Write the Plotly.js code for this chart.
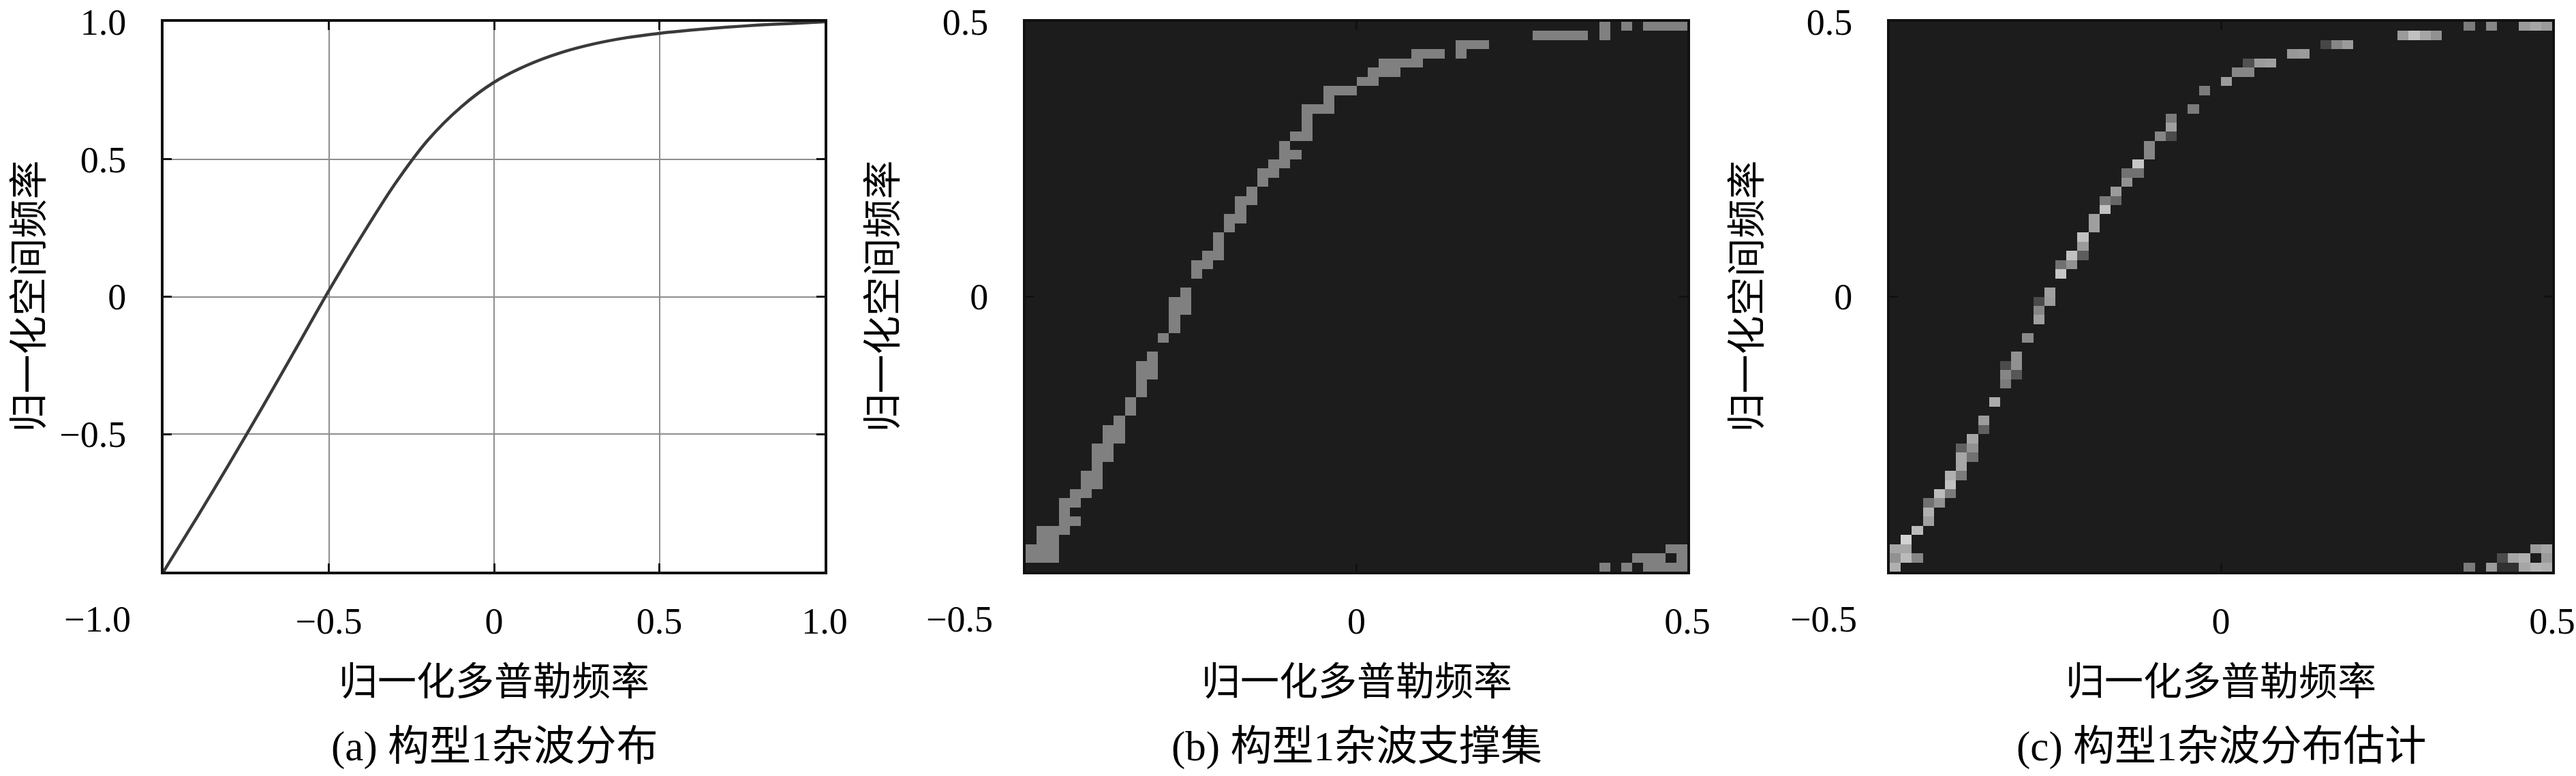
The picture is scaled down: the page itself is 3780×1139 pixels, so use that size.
<!DOCTYPE html>
<html>
<head>
<meta charset="utf-8">
<script src="https://cdn.plot.ly/plotly-3.0.1.min.js"></script>
<style>html,body{margin:0;padding:0;background:#fff;}#chart{width:3780px;height:1139px;}</style>
</head>
<body>
<div id="chart"></div>
<script>
// ---------- Panel (a): clutter ridge ----------
const ridgeDoppler = [-1.0,-0.9,-0.8,-0.7,-0.6,-0.5,-0.4,-0.3,-0.2,-0.1,0.0,0.1,0.2,0.3,0.4,0.5,0.6,0.7,0.8,0.9,1.0];
const ridgeSpatial = [-1.0,-0.805,-0.605,-0.40,-0.19,0.022,0.222,0.41,0.57,0.69,0.78,0.842,0.887,0.919,0.942,0.958,0.97,0.98,0.988,0.994,1.0];

// ---------- Grid for panels (b) and (c) ----------
const nBins = 60;            // 60 x 60 cells over [-0.5, 0.5]
const binRange = [-0.5, 0.5];

// Panel (b): support set, lit Doppler columns for each spatial row (row 0 = top)
const supportRows = [
  [52,54,56,57,58,59],
  [46,47,48,49,50,52],
  [39,40,41],
  [35,36,37,39],
  [32,33,34,35],
  [31,32,33],
  [30,31],
  [27,28,29],
  [27],
  [25,26,27],
  [25],
  [25],
  [24,25],
  [23],
  [23,24],
  [22,23],
  [21,22],
  [21],
  [20],
  [19,20],
  [19],
  [18,19],
  [18],
  [17],
  [17],
  [16,17],
  [15,16],
  [15],
  [],
  [14],
  [13,14],
  [13,14],
  [13],
  [13],
  [12],
  [],
  [11],
  [10,11],
  [10,11],
  [10],
  [10],
  [9],
  [9],
  [8],
  [7,8],
  [7,8],
  [6,7],
  [6,7],
  [6],
  [5,6],
  [5,6],
  [4,5],
  [3,4],
  [3],
  [3,4],
  [1,2,3],
  [1,2],
  [0,1,2,58,59],
  [0,1,2,55,56,57,59],
  [52,54,56,57,58,59]
];
const supportLevel = 1;

// Panel (c): estimated clutter distribution (column, row-from-top, intensity)
const estCol = [30,28,27,25,25,25,24,23,23,22,22,21,21,20,20,19,19,18,18,17,17,17,16,16,15,15,14,14,13,13,13,12,11,11,11,10,10,10,9,8,8,7,7,7,6,6,6,6,5,5,5,4,4,3,3,3,2,1,1,0,0,1,2,0,
  31,32,32,33,34,36,37,39,40,41,46,47,48,49,52,54,57,58,59,
  52,54,55,56,57,58,59,55,56,57,59,58,59];
const estRow = [6,7,9,10,11,12,12,13,14,15,16,16,17,18,19,19,20,21,22,23,24,25,25,26,26,27,29,30,30,31,32,34,36,37,38,37,38,39,41,43,44,45,46,47,46,47,48,49,49,50,51,51,52,52,53,54,55,56,57,57,58,58,58,59,
  5,5,4,4,4,3,3,2,2,2,1,1,1,1,0,0,0,0,0,
  59,59,59,59,59,59,59,58,58,58,58,57,57];
const estVal = [0.6,0.45,0.45,0.45,0.62,0.22,0.5,0.5,0.5,0.8,0.4,0.4,0.55,0.6,0.35,0.45,0.78,0.62,0.62,0.78,0.6,0.3,0.78,0.55,0.4,0.8,0.62,0.6,0.22,0.5,0.62,0.52,0.55,0.55,0.28,0.22,0.5,0.45,0.68,0.6,0.32,0.65,0.55,0.4,0.32,0.65,0.65,0.45,0.7,0.78,0.45,0.75,0.55,0.4,0.7,0.62,0.75,0.86,0.65,0.65,0.55,0.75,0.5,0.7,
  0.5,0.5,0.25,0.6,0.62,0.58,0.6,0.2,0.5,0.6,0.6,0.78,0.65,0.55,0.45,0.5,0.6,0.65,0.6,
  0.45,0.6,0.1,0.1,0.65,0.72,0.7,0.22,0.65,0.7,0.6,0.6,0.65];

// Tick labels and texts
const xTicksA = [-1.0,-0.5,0,0.5,1.0];
const xTickTextA = ['', '\u22120.5', '0', '0.5', '1.0'];
const yTicksA = [-1.0,-0.5,0,0.5,1.0];
const yTickTextA = ['', '\u22120.5', '0', '0.5', '1.0'];
const ticksBC = [-0.5,0,0.5];
const xTickTextBC = ['', '0', '0.5'];
const yTickTextBC = ['', '0', '0.5'];
const xTitle = '归一化多普勒频率';
const yTitle = '归一化空间频率';
const captions = ['(a) 构型1杂波分布', '(b) 构型1杂波支撑集', '(c) 构型1杂波分布估计'];
const cornerLabels = ['\u22121.0', '\u22120.5', '\u22120.5'];

// ---------- build matrices ----------
function emptyGrid(){ const z=[]; for(let j=0;j<nBins;j++){ z.push(new Array(nBins).fill(0)); } return z; }
const zSupport = emptyGrid();
supportRows.forEach((cols, r) => { cols.forEach(c => { zSupport[nBins-1-r][c] = supportLevel; }); });
const zEst = emptyGrid();
estCol.forEach((c,k) => { zEst[nBins-1-estRow[k]][c] = estVal[k]; });

const W = 3780, H = 1139;
const plotTop = 32, plotBot = 839;
const panelsPx = [[240,1210],[1505,2476],[2773,3745]];
const yTitleOffset = [198, 210, 210];
const px = v => v / W;
const py = v => 1 - v / H;
const yDom = [py(plotBot), py(plotTop)];

const serif = '"Liberation Serif", "Noto Sans CJK SC", serif';
const cjk = '"Liberation Serif", "Noto Sans CJK SC", sans-serif';
const tickFont = {family: serif, size: 54, color: '#000'};

const cell = (binRange[1]-binRange[0]) / nBins;
const traces = [
  {type:'scatter', mode:'lines', x: ridgeDoppler, y: ridgeSpatial, xaxis:'x', yaxis:'y',
   line:{color:'#3a3a3a', width:4.5, shape:'spline', smoothing:0.8}, hoverinfo:'skip'},
  {type:'heatmap', z: zSupport, x0: binRange[0]+cell/2, dx: cell, y0: binRange[0]+cell/2, dy: cell,
   xaxis:'x2', yaxis:'y2', zmin:0, zmax:1, showscale:false,
   colorscale:[[0,'#1c1c1c'],[1,'#808080']]},
  {type:'heatmap', z: zEst, x0: binRange[0]+cell/2, dx: cell, y0: binRange[0]+cell/2, dy: cell,
   xaxis:'x3', yaxis:'y3', zmin:0, zmax:1, showscale:false,
   colorscale:[[0,'#1c1c1c'],[1,'#f0f0f0']]}
];

function axisBase(dom, anchor){
  return {domain: dom, anchor: anchor, showline:true, linewidth:4, linecolor:'#111', mirror:'ticks',
    ticks:'inside', ticklen:12, tickwidth:3, tickcolor:'#111', tickfont: tickFont,
    zeroline:false, fixedrange:true};
}
const layout = {
  width: W, height: H, margin:{l:0,r:0,t:0,b:0}, paper_bgcolor:'#fff', plot_bgcolor:'#fff',
  showlegend:false,
  xaxis: Object.assign(axisBase([px(panelsPx[0][0]), px(panelsPx[0][1])], 'y'),
    {range:[-1,1], tickvals:xTicksA, ticktext:xTickTextA, showgrid:true, gridcolor:'#8e8e8e', gridwidth:2, ticklabelstandoff:22}),
  yaxis: Object.assign(axisBase(yDom, 'x'),
    {range:[-1,1], tickvals:yTicksA, ticktext:yTickTextA, showgrid:true, gridcolor:'#8e8e8e', gridwidth:2, ticklabelstandoff:40}),
  xaxis2: Object.assign(axisBase([px(panelsPx[1][0]), px(panelsPx[1][1])], 'y2'),
    {range:binRange, tickvals:ticksBC, ticktext:xTickTextBC, showgrid:false, ticklabelstandoff:22}),
  yaxis2: Object.assign(axisBase(yDom, 'x2'),
    {range:binRange, tickvals:ticksBC, ticktext:yTickTextBC, showgrid:false, ticklabelstandoff:40}),
  xaxis3: Object.assign(axisBase([px(panelsPx[2][0]), px(panelsPx[2][1])], 'y3'),
    {range:binRange, tickvals:ticksBC, ticktext:xTickTextBC, showgrid:false, ticklabelstandoff:22}),
  yaxis3: Object.assign(axisBase(yDom, 'x3'),
    {range:binRange, tickvals:ticksBC, ticktext:yTickTextBC, showgrid:false, ticklabelstandoff:40}),
  annotations: []
};
panelsPx.forEach((p, i) => {
  const cx = (p[0]+p[1])/2;
  layout.annotations.push({xref:'paper', yref:'paper', x: px(cx), y: py(1000), text: xTitle, showarrow:false,
    xanchor:'center', yanchor:'middle', font:{family:cjk, size:57, color:'#000'}});
  layout.annotations.push({xref:'paper', yref:'paper', x: px(cx), y: py(1096), text: captions[i], showarrow:false,
    xanchor:'center', yanchor:'middle', font:{family:cjk, size:61, color:'#000'}});
  layout.annotations.push({xref:'paper', yref:'paper', x: px(p[0]-yTitleOffset[i]), y: py((plotTop+plotBot)/2), text: yTitle, showarrow:false,
    textangle:-90, xanchor:'center', yanchor:'middle', font:{family:cjk, size:57, color:'#000'}});
  layout.annotations.push({xref:'paper', yref:'paper', x: px(p[0]-46), y: py(909), text: cornerLabels[i], showarrow:false,
    xanchor:'right', yanchor:'middle', font: tickFont});
});

Plotly.newPlot('chart', traces, layout, {staticPlot:true, displayModeBar:false});
</script>
</body>
</html>
